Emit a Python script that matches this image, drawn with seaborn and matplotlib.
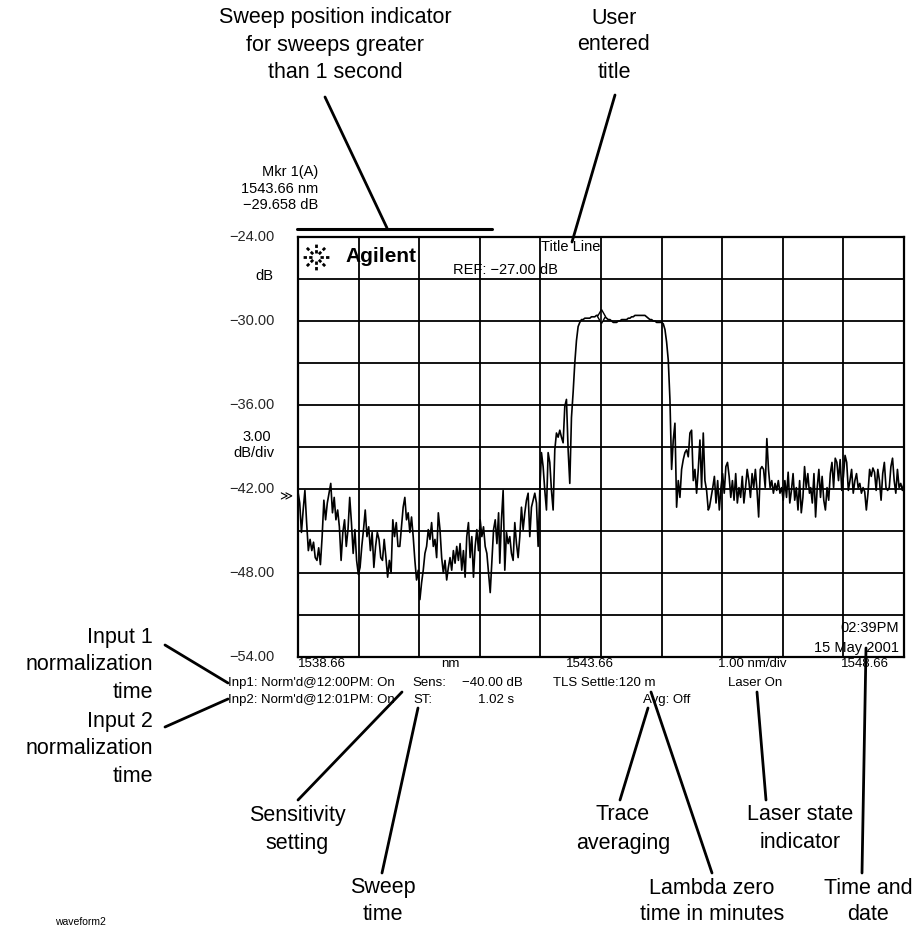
import numpy as np
import pandas as pd
import matplotlib.pyplot as plt
import seaborn as sns
from matplotlib.lines import Line2D
from matplotlib.transforms import blended_transform_factory

W, H = 915, 935

# trace, one list per stretch of the sweep (dB)
seg1_db = [-42.2, -43.0, -45.1, -43.5, -42.1, -44.4, -46.4, -45.6, -46.4, -45.8,
           -46.9, -47.1, -46.2, -47.4, -45.4, -42.8, -44.2, -43.0, -42.3, -41.6,
           -43.7, -42.6, -44.2, -43.5, -44.7, -47.1, -45.1, -44.2, -46.1, -44.9,
           -42.6, -44.4, -46.6, -44.9, -47.1, -48.1, -47.6, -46.1, -44.9, -43.5,
           -45.4, -44.7, -46.4, -45.1, -47.6, -46.1, -45.1, -45.6, -46.9, -47.1,
           -45.6, -46.9, -48.3, -47.1, -48.0, -44.2, -45.4, -44.4, -46.1]
seg2_db = [-46.1, -44.7, -43.3, -42.6, -44.2, -43.7, -45.1, -44.0, -45.4, -47.1,
           -48.5, -47.8, -49.9, -48.7, -47.8, -46.6, -46.1, -44.9, -45.6, -44.4,
           -46.1, -45.6, -46.9, -43.7, -44.9, -46.9, -48.0, -47.1, -48.5, -47.6,
           -46.9, -47.8, -46.4, -47.3, -46.1, -47.1, -45.9, -47.8, -46.4, -48.3,
           -45.4, -44.4, -46.9, -45.4, -48.3, -46.1, -44.9, -46.4, -44.2, -45.4,
           -44.7, -46.1, -46.6, -48.0, -49.4, -47.1, -44.9, -44.2, -45.9, -43.7]
seg3_db = [-47.3, -44.2, -42.1, -47.8, -45.1, -45.9, -45.4, -46.6, -47.1, -44.4,
           -45.9, -46.9, -45.4, -43.3, -44.9, -43.7, -42.8, -42.3, -45.4, -43.3,
           -42.8, -42.3, -43.0, -46.1, -42.1, -39.4, -40.4, -42.1, -43.5, -39.4,
           -40.1, -42.1, -43.5, -39.2, -38.0, -38.3, -37.8, -38.3, -38.7, -36.1,
           -35.6, -39.2, -41.6, -36.9, -35.1, -33.0, -31.4, -30.4, -30.1, -29.9,
           -29.9, -29.8, -29.8, -29.8, -29.8, -29.7, -29.7, -29.7, -29.6, -29.6, -29.6]
seg4_db = [-29.7, -29.6, -29.7, -29.8, -29.9, -29.9, -30.0, -30.1, -30.1, -30.1,
           -30.0, -30.0, -29.9, -29.9, -29.9, -29.9, -29.8, -29.8, -29.7, -29.7,
           -29.6, -29.6, -29.6, -29.6, -29.6, -29.6, -29.6, -29.7, -29.8, -29.9,
           -29.9, -30.0, -30.0, -30.1, -30.1, -30.1, -30.1, -30.2, -30.6, -31.5,
           -32.8, -35.6, -40.6, -38.5, -37.3, -43.3, -41.4, -42.6, -40.6, -39.9,
           -39.4, -39.2, -39.7, -38.0, -37.8, -41.4, -40.6, -42.3, -40.6, -38.5,
           -41.9, -38.0, -41.4, -42.1, -43.5]
seg5_db = [-43.3, -42.6, -41.9, -41.1, -43.0, -41.4, -43.5, -41.9, -40.9, -42.3,
           -40.4, -40.1, -41.1, -42.6, -41.4, -42.8, -40.9, -43.0, -41.9, -42.6,
           -41.1, -43.0, -41.9, -40.6, -41.4, -42.6, -40.9, -41.9, -40.6, -42.1,
           -44.0, -40.6, -40.4, -40.6, -41.9, -38.4, -40.6, -41.9, -41.4, -42.3,
           -41.6, -42.1, -41.4, -42.3, -41.9, -42.8, -41.4, -42.6, -40.8, -43.0,
           -42.1, -40.9, -42.8, -41.9, -43.5, -41.4, -43.7, -42.6, -40.4, -41.9,
           -40.9, -42.3]
seg6_db = [-41.9, -43.0, -40.9, -44.0, -41.9, -40.6, -42.6, -41.1, -42.8, -43.5,
           -41.9, -42.8, -40.9, -40.1, -41.9, -39.8, -40.1, -41.4, -39.9, -42.1,
           -41.1, -39.6, -40.1, -42.1, -41.4, -40.6, -42.3, -41.4, -40.9, -41.9,
           -41.6, -42.3, -41.9, -42.2, -43.5, -42.3, -40.6, -41.1, -40.5, -40.8,
           -42.1, -40.6, -41.4, -42.8, -40.9, -40.1, -41.9, -42.1, -41.9, -40.4,
           -39.8, -41.4, -42.3, -40.6, -41.9, -41.6, -42.1, -41.6]
# start / stop wavelength of each stretch (nm)
seg_spans = [(1538.66, 1540.31), (1540.34, 1541.97), (1541.99, 1543.64),
             (1543.67, 1545.43), (1545.45, 1547.10), (1547.12, 1548.66)]

marker_nm, marker_db = 1543.66, -29.658
start_nm, stop_nm = 1538.66, 1548.66
ref_top, ref_bottom, db_per_div = -24.0, -54.0, 3.0
y_labels = ['−24.00', '−30.00', '−36.00', '−42.00', '−48.00', '−54.00']
y_label_vals = [-24, -30, -36, -42, -48, -54]

frames = []
for seg, (a, b) in zip([seg1_db, seg2_db, seg3_db, seg4_db, seg5_db, seg6_db], seg_spans):
    frames.append(pd.DataFrame({'nm': np.linspace(a, b, len(seg)), 'dB': seg}))
trace = pd.concat(frames, ignore_index=True)

sns.set_theme(style='white')
plt.rcParams['font.family'] = ['Liberation Sans', 'DejaVu Sans']

fig = plt.figure(figsize=(W / 100, H / 100), dpi=100)
ax = fig.add_axes([298 / W, 1 - 657 / H, 606 / W, 420 / H])

sns.lineplot(data=trace, x='nm', y='dB', ax=ax, sort=False, estimator=None,
             color='black', lw=1.2)
ax.plot([marker_nm], [marker_db], marker='d', ms=7, mfc='white', mec='black', mew=1.0)
ax.plot([marker_nm], [marker_db], marker='|', ms=9, color='black', mew=1.2)

ax.set_xlim(start_nm, stop_nm)
ax.set_ylim(ref_bottom, ref_top)
ax.set_xticks(np.linspace(start_nm, stop_nm, 11))
ax.set_yticks(np.arange(ref_bottom, ref_top + 0.1, db_per_div))
ax.grid(True, color='black', lw=1.3)
ax.tick_params(length=0, labelbottom=False, labelleft=False)
ax.set_xlabel('')
ax.set_ylabel('')
for s in ax.spines.values():
    s.set_color('black')
    s.set_linewidth(1.6)


def put(x, y, s, size=10, ha='left', va='center', **kw):
    fig.text(x / W, 1 - y / H, s, fontsize=size, ha=ha, va=va, color='black', **kw)


def seg(x0, y0, x1, y1, lw=2.0):
    fig.add_artist(Line2D([x0 / W, x1 / W], [1 - y0 / H, 1 - y1 / H],
                          transform=fig.transFigure, color='black', lw=lw))


# y scale labels
tr = blended_transform_factory(ax.transAxes, ax.transData)
for lab, v in zip(y_labels, y_label_vals):
    ax.text(-23 / 606, v, lab, transform=tr, ha='right', va='center', fontsize=10.5)
put(273, 276, 'dB', 10.5, ha='right')
put(257, 437, '3.00', 10.5, ha='center')
put(254, 453, 'dB/div', 10.5, ha='center')
put(286, 497, '≫', 9, ha='center', family=['DejaVu Sans'])

# marker readout
put(318, 172, 'Mkr 1(A)', 10.5, ha='right')
put(318, 189, '1543.66 nm', 10.5, ha='right')
put(318, 205, '−29.658 dB', 10.5, ha='right')

# sweep position bar
seg(297, 229, 492, 229, lw=2.2)

# logo
cx, cy = 316, 257
for ang in np.arange(0, 360, 45):
    dx, dy = np.cos(np.radians(ang)), np.sin(np.radians(ang))
    fig.add_artist(Line2D([(cx + 4 * dx) / W, (cx + 13 * dx) / W],
                          [1 - (cy + 4 * dy) / H, 1 - (cy + 13 * dy) / H],
                          transform=fig.transFigure, color='black', lw=2.0,
                          ls=(0, (1.2, 0.8))))
put(345, 257, 'Agilent', 15, weight='bold')
put(571, 247, 'Title Line', 10.5, ha='center')
put(453, 270, 'REF: −27.00 dB', 10.5)
put(899, 628, '02:39PM', 10.5, ha='right')
put(899, 648, '15 May 2001', 10.5, ha='right')

# status lines under the graticule
small = 9.5
put(298, 664, '1538.66', small)
put(441, 664, 'nm', small)
put(566, 664, '1543.66', small)
put(718, 664, '1.00 nm/div', small)
put(889, 664, '1548.66', small, ha='right')
put(228, 683, "Inp1: Norm'd@12:00PM: On", small)
put(412, 683, 'Sens:', small)
put(462, 683, '−40.00 dB', small)
put(553, 683, 'TLS Settle:120 m', small)
put(728, 683, 'Laser On', small)
put(228, 700, "Inp2: Norm'd@12:01PM: On", small)
put(413, 700, 'ST:', small)
put(478, 700, '1.02 s', small)
put(643, 700, 'Avg: Off', small)

# callouts
big = 15.5
for i, t in enumerate(['Sweep position indicator', 'for sweeps greater', 'than 1 second']):
    put(335, 18 + 27 * i, t, big, ha='center')
for i, t in enumerate(['User', 'entered', 'title']):
    put(614, 18 + 27 * i, t, big, ha='center')
seg(325, 97, 387, 228)
seg(615, 95, 572, 242)

for i, t in enumerate(['Input 1', 'normalization', 'time']):
    put(153, 637 + 27.5 * i, t, big, ha='right')
for i, t in enumerate(['Input 2', 'normalization', 'time']):
    put(153, 721 + 27.5 * i, t, big, ha='right')
seg(165, 645, 228, 683)
seg(165, 727, 228, 699)

for i, t in enumerate(['Sensitivity', 'setting']):
    put(297, 815 + 28 * i, t, big, ha='center')
seg(298, 800, 402, 692)
for i, t in enumerate(['Sweep', 'time']):
    put(383, 888 + 27 * i, t, big, ha='center')
seg(382, 873, 418, 708)
for i, t in enumerate(['Trace', 'averaging']):
    put(623, 815 + 28 * i, t, big, ha='center')
seg(620, 800, 648, 708)
for i, t in enumerate(['Lambda zero', 'time in minutes']):
    put(712, 888 + 27 * i, t, big, ha='center')
seg(712, 873, 651, 692)
for i, t in enumerate(['Laser state', 'indicator']):
    put(800, 815 + 28 * i, t, big, ha='center')
seg(766, 800, 757, 692)
for i, t in enumerate(['Time and', 'date']):
    put(868, 888 + 27 * i, t, big, ha='center')
seg(862, 873, 866, 648)

put(55, 922, 'waveform2', 7.5)

fig.savefig('out.png', dpi=100, facecolor='white')
